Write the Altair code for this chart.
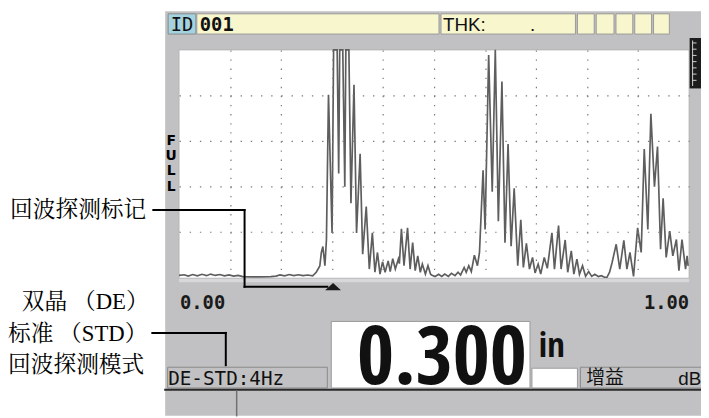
import altair as alt
import pandas as pd

wave_x = [0.000, 0.010, 0.018, 0.027, 0.036, 0.045, 0.054, 0.062, 0.071, 0.080,
          0.089, 0.098, 0.107, 0.116, 0.125, 0.140, 0.160, 0.180, 0.190, 0.198,
          0.207, 0.216, 0.225, 0.234, 0.243, 0.252, 0.262,
          0.269, 0.276, 0.279, 0.282, 0.286, 0.289, 0.293, 0.300, 0.303, 0.310,
          0.313, 0.315, 0.321, 0.325, 0.327, 0.333, 0.337, 0.343, 0.348, 0.355,
          0.360, 0.367, 0.373, 0.379, 0.384, 0.389, 0.394, 0.399, 0.404, 0.410,
          0.414, 0.419, 0.424, 0.430, 0.432, 0.436, 0.441, 0.448, 0.453, 0.458,
          0.463, 0.468, 0.473, 0.477, 0.483, 0.488, 0.493,
          0.495, 0.502, 0.509, 0.515, 0.521, 0.528, 0.534, 0.541, 0.547, 0.552,
          0.559, 0.563, 0.568, 0.573, 0.579, 0.585, 0.589,
          0.596, 0.600, 0.607, 0.614, 0.620, 0.626, 0.633, 0.639, 0.645, 0.651,
          0.657, 0.664, 0.670, 0.675, 0.681, 0.687, 0.693, 0.698, 0.704, 0.709,
          0.716, 0.722,
          0.731, 0.736, 0.744, 0.749, 0.757, 0.762, 0.769, 0.774, 0.780, 0.785,
          0.791, 0.797, 0.803,
          0.809, 0.815, 0.822, 0.828, 0.834, 0.839,
          0.844, 0.849, 0.857, 0.864, 0.872, 0.878, 0.884, 0.891,
          0.899, 0.906, 0.912, 0.919, 0.925, 0.932, 0.938, 0.944, 0.949, 0.955,
          0.962, 0.968, 0.975, 0.980, 0.986, 0.993, 0.996, 0.998]
wave_y = [0.8, 1.1, 0.5, 1.2, 0.6, 1.3, 0.7, 1.4, 0.8, 1.2,
          0.6, 1.0, 0.5, 0.8, 0.3, 0.2, 0.2, 0.3, 0.5, 1.0,
          0.6, 1.2, 0.7, 1.1, 0.7, 1.0, 0.6,
          2.2, 5.0, 10.9, 13.5, 5.1, 16.6, 80.3, 19.5, 100, 100,
          45.6, 100, 100, 39.8, 100, 100, 32.6, 84.7, 19.5, 54.3,
          10.1, 31.1, 3.6, 19.5, 2.2, 10.9, 1.4, 6.8, 2.2, 7.2,
          2.5, 8.2, 3.6, 8.0, 6.0, 21.3, 5.1, 21.7, 3.6, 15.2,
          2.9, 9.4, 2.2, 5.8, 1.4, 5.1, 1.4,
          1.0, 0.3, 1.3, 0.4, 1.4, 0.4, 1.7, 0.7, 2.2, 1.0,
          4.3, 2.2, 5.1, 2.5, 9.7, 5.1, 10.9,
          47.0, 21.0, 97.7, 37.6, 100, 24.6, 86.1, 15.2, 58.6, 13.7,
          39.1, 5.1, 25.3, 4.3, 14.9, 3.6, 8.7, 1.9, 5.8, 1.4,
          8.7, 3.9,
          19.5, 3.6, 22.7, 3.6, 16.4, 2.2, 11.6, 1.4, 8.0, 1.3,
          5.1, 0.4, 2.5,
          0.4, 1.3, 0.3, 0.7, 0.0, 0.0,
          2.2, 6.5, 14.5, 3.6, 16.2, 3.6, 10.9, 0.4,
          21.7, 10.9, 56.4, 21.0, 71.9, 39.8, 57.5, 12.3, 34.7, 8.7,
          20.3, 9.4, 16.6, 2.9, 16.6, 3.6, 9.4, 5.0]

grid_x = [0.1, 0.2, 0.3, 0.4, 0.5, 0.6, 0.7, 0.8, 0.9]
grid_y = [20, 40, 60, 80]
range_x = [0.0, 1.0]
range_labels = ["0.00", "1.00"]
marker_x = [0.302]
thickness_text = "0.300"
unit_text = "in"
id_text = "001"
mode_text = "DE-STD:4Hz"
gain_text = "增益"
gain_unit = "dB"
full_letters = ["F", "U", "L", "L"]
note_marker = "回波探测标记"
note_mode = ["双晶 （DE）", "标准 （STD）", "回波探测模式"]

# ---------------- layout helpers (page pixel coords) ----------------
W, H = 516, 230
OX, OY = 181, 48
BOTTOM = 418
GRAY = "#c1c1c3"
MONO = "DejaVu Sans Mono"
SANS = "Liberation Sans, Arial, sans-serif"
NARROW = "Open Sans Condensed, Roboto Condensed, sans-serif"
CN_SERIF = "Liberation Serif, Noto Serif CJK SC, Noto Sans CJK SC"
CN_SANS = "Noto Sans CJK SC"

one = alt.Data(values=[{"k": 0}])


def P(X):
    return X - OX


def Q(Y):
    return Y - OY


def box(x1, y1, x2, y2, fill, stroke=None, sw=1):
    if stroke:
        m = alt.Chart(one).mark_rect(fill=fill, stroke=stroke, strokeWidth=sw)
    else:
        m = alt.Chart(one).mark_rect(fill=fill, strokeWidth=0)
    return m.encode(x=alt.value(P(x1)), x2=alt.value(P(x2)),
                    y=alt.value(Q(y1)), y2=alt.value(Q(y2)))


def seg(x1, y1, x2, y2, color="#000000", w=2):
    return alt.Chart(one).mark_rule(color=color, strokeWidth=w, strokeCap="square").encode(
        x=alt.value(P(x1)), x2=alt.value(P(x2)), y=alt.value(Q(y1)), y2=alt.value(Q(y2)))


def label(X, Y, s, size, font, weight="normal", align="left", baseline="middle", color="#111111"):
    return alt.Chart(one).mark_text(text=s, fontSize=size, font=font, fontWeight=weight,
                                    align=align, baseline=baseline, color=color).encode(
        x=alt.value(P(X)), y=alt.value(Q(Y)))


xscale = alt.Scale(domain=[0, 1], nice=False, zero=False)
yscale = alt.Scale(domain=[0, 100], nice=False)
xaxis = alt.Axis(values=grid_x, grid=True, labels=False, ticks=False, domain=False, title=None,
                 gridColor="#7a7a7a", gridDash=[1.4, 7.8], gridWidth=1.2, zindex=1)
yaxis = alt.Axis(values=grid_y, grid=True, labels=False, ticks=False, domain=False, title=None,
                 gridColor="#7a7a7a", gridDash=[1.4, 8.9], gridWidth=1.2, zindex=1)
XENC = alt.X("x:Q", scale=xscale, axis=xaxis)

L = []
# panel
L.append(box(167, 9, 709, BOTTOM, GRAY))
# top status boxes
L.append(box(170, 11.5, 198, 32, "#a3d3e0", "#8a8a8a"))
L.append(box(199, 11.5, 444, 32, "#f8f6cd", "#9a9a9a"))
L.append(box(446, 11.5, 582, 32, "#f8f6cd", "#9a9a9a"))
for a, b in [(584, 601), (603, 621), (623, 640), (642, 659), (661, 677)]:
    L.append(box(a, 11.5, b, 32, "#f8f6cd", "#9a9a9a"))
L.append(label(184, 22.5, "ID", 19, MONO, align="center"))
L.append(label(202, 22.5, id_text, 19, MONO, weight="bold"))
L.append(label(448, 22.5, "THK:", 19, SANS))
L.append(label(536, 22.5, ".", 19, SANS))
# plot area
L.append(box(181, 48, 697, 279, "#ffffff", "#b4b4b4"))
L.append(box(181, 279.5, 697, 283, "#d8d8da"))
# right side scale
L.append(box(697.5, 36, 709, 87, "#1c1c1c"))
L.append(seg(700.5, 39, 700.5, 84, "#d0d0d0", 1))
for yy in [41, 47.3, 53.6, 59.9, 66.2, 72.5, 78.8]:
    L.append(seg(700.5, yy, 704, yy, "#d0d0d0", 1))
# FULL
for ch, yy in zip(full_letters, [140.5, 155.5, 171, 187]):
    L.append(label(173, yy, ch, 14, "DejaVu Sans", weight="bold", align="center", color="#000000"))

# waveform
df = pd.DataFrame({"x": wave_x, "y": wave_y})
L.append(alt.Chart(df).mark_line(color="#5e5e5e", strokeWidth=1.7).encode(
    x=XENC, y=alt.Y("y:Q", scale=yscale, axis=yaxis)))

# range labels
L.append(alt.Chart(pd.DataFrame({"x": [range_x[0]], "t": [range_labels[0]]})).mark_text(
    align="left", baseline="alphabetic", font=MONO, fontWeight="bold", fontSize=19, color="#1a1a1a", dx=1
).encode(x=XENC, y=alt.value(Q(310)), text="t:N"))
L.append(alt.Chart(pd.DataFrame({"x": [range_x[1]], "t": [range_labels[1]]})).mark_text(
    align="right", baseline="alphabetic", font=MONO, fontWeight="bold", fontSize=19, color="#1a1a1a"
).encode(x=XENC, y=alt.value(Q(310)), text="t:N"))

# detection marker
L.append(seg(155, 210, 247.3, 210))
L.append(seg(247.3, 210, 247.3, 287.7))
L.append(seg(247.3, 287.7, 331, 287.7))
L.append(alt.Chart(pd.DataFrame({"x": marker_x})).mark_point(
    shape="M-1,0.45L1,0.45L0,-0.45Z", size=256, filled=True, color="#1a1a1a", opacity=1
).encode(x=XENC, y=alt.value(Q(287.5))))
L.append(label(10, 210, note_marker, 23, CN_SERIF, color="#000000"))

# mode annotation
L.append(seg(154, 334.3, 228.3, 334.3))
L.append(seg(228.3, 334.3, 228.3, 367))
for (xx, yy), s in zip([(22, 303.3), (8, 335), (8, 366.7)], note_mode):
    L.append(label(xx, yy, s, 23, CN_SERIF, color="#000000"))

# bottom status area
L.append(box(169.5, 369, 331, 390, GRAY, "#8a8a8a"))
L.append(label(170, 386.7, mode_text, 19.5, MONO, baseline="alphabetic"))
L.append(box(335, 322.7, 536, 390, "#ffffff", "#9a9a9a"))
L.append(label(447, 386, thickness_text, 81, NARROW, weight="bold", align="center", baseline="alphabetic"))
L.append(label(545, 358.3, unit_text, 35, NARROW, weight="bold", baseline="alphabetic"))
L.append(box(538, 370, 584, 390, "#ffffff", "#9a9a9a"))
L.append(box(587, 369, 712, 390, GRAY, "#8a8a8a"))
L.append(label(593, 380, gain_text, 19, CN_SANS))
L.append(label(686, 387, gain_unit, 19, SANS, baseline="alphabetic"))
L.append(seg(167, 391.7, 709, 391.7, "#2a2a2a", 2))
L.append(seg(239.3, 393, 239.3, BOTTOM, "#707070", 1.5))

chart = alt.layer(*L).properties(
    width=W, height=H,
    padding={"left": 173, "top": 40, "right": 12, "bottom": BOTTOM - 278},
    autosize=alt.AutoSizeParams(type="none"),
    background="white",
).configure_view(strokeWidth=0)

chart.save("out.html", embed_options={"renderer": "svg", "actions": False})
